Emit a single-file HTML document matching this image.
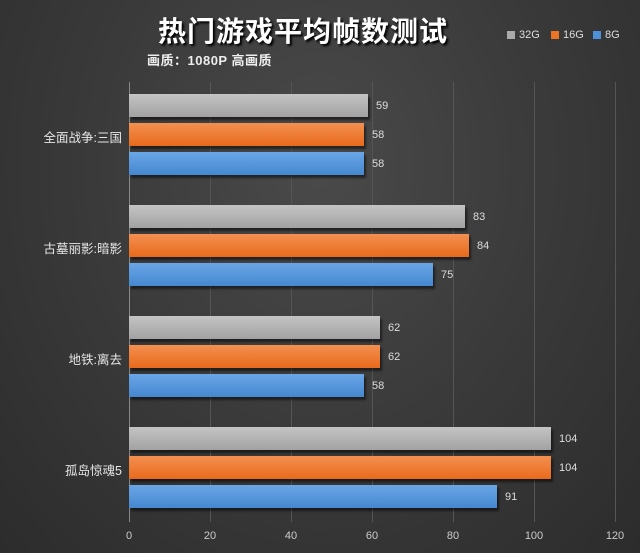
<!DOCTYPE html>
<html><head><meta charset="utf-8"><style>
body{margin:0}
#c{position:relative;width:640px;height:553px;overflow:hidden;background:radial-gradient(ellipse at 50% 30%,#4a4a4a 0%,#3a3a3a 50%,#2c2c2c 100%);font-family:"Liberation Sans","Noto Sans CJK SC",sans-serif;color:#ddd}
.g{position:absolute;top:82px;height:440px;width:1px;background:#555}
.b{position:absolute;left:129px;height:23px;box-shadow:2px 3px 2px rgba(0,0,0,.5)}
.gr{background:linear-gradient(#c4c4c4,#a2a2a2)}
.or{background:linear-gradient(#f39050,#e86a1c)}
.bl{background:linear-gradient(#6aa6e6,#4588d0)}
.v{position:absolute;font-size:11px;color:#ddd}
.cat{position:absolute;right:518px;font-size:12.5px;color:#e6e6e6;white-space:nowrap}
.t{position:absolute;top:530px;font-size:11px;color:#ccc;width:30px;margin-left:-15px;text-align:center}
.lg{position:absolute;top:29px;font-size:11px;color:#ddd}
.lg i{display:inline-block;width:8px;height:8px;margin-right:4px;vertical-align:-1px}
</style></head><body><div id="c">
<div style="position:absolute;left:158px;top:10px;font-size:28px;font-weight:bold;color:#fff;text-shadow:2px 2px 2px #000;letter-spacing:1px">热门游戏平均帧数测试</div>
<div style="position:absolute;left:147px;top:50px;font-size:13px;font-weight:bold;color:#eee;letter-spacing:0.5px">画质：1080P 高画质</div>
<div class="lg" style="left:507px"><i style="background:#aaa"></i>32G</div>
<div class="lg" style="left:551px"><i style="background:#ec7424"></i>16G</div>
<div class="lg" style="left:593px"><i style="background:#4d90d8"></i>8G</div>
<div class="g" style="left:129px;background:#888"></div>
<div class="g" style="left:210px"></div><div class="g" style="left:291px"></div><div class="g" style="left:372px"></div><div class="g" style="left:453px"></div><div class="g" style="left:534px"></div><div class="g" style="left:615px"></div>

<div class="b gr" style="top:94px;width:239px"></div><div class="v" style="left:376px;top:100px">59</div>
<div class="b or" style="top:123px;width:235px"></div><div class="v" style="left:372px;top:129px">58</div>
<div class="b bl" style="top:152px;width:235px"></div><div class="v" style="left:372px;top:158px">58</div>
<div class="cat" style="top:127px">全面战争:三国</div>

<div class="b gr" style="top:205px;width:336px"></div><div class="v" style="left:473px;top:211px">83</div>
<div class="b or" style="top:234px;width:340px"></div><div class="v" style="left:477px;top:240px">84</div>
<div class="b bl" style="top:263px;width:304px"></div><div class="v" style="left:441px;top:269px">75</div>
<div class="cat" style="top:238px">古墓丽影:暗影</div>

<div class="b gr" style="top:316px;width:251px"></div><div class="v" style="left:388px;top:322px">62</div>
<div class="b or" style="top:345px;width:251px"></div><div class="v" style="left:388px;top:351px">62</div>
<div class="b bl" style="top:374px;width:235px"></div><div class="v" style="left:372px;top:380px">58</div>
<div class="cat" style="top:349px">地铁:离去</div>

<div class="b gr" style="top:427px;width:422px"></div><div class="v" style="left:559px;top:433px">104</div>
<div class="b or" style="top:456px;width:422px"></div><div class="v" style="left:559px;top:462px">104</div>
<div class="b bl" style="top:485px;width:368px"></div><div class="v" style="left:505px;top:491px">91</div>
<div class="cat" style="top:460px">孤岛惊魂5</div>

<div class="t" style="left:129px">0</div><div class="t" style="left:210px">20</div><div class="t" style="left:291px">40</div><div class="t" style="left:372px">60</div><div class="t" style="left:453px">80</div><div class="t" style="left:534px">100</div><div class="t" style="left:615px">120</div>
</div></body></html>
